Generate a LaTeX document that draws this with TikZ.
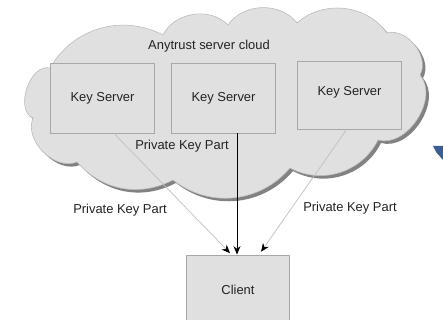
\documentclass[tikz,border=0pt]{standalone}
\usepackage{fontspec}
\setmainfont{Liberation Sans}
\usepackage{tikz}
\usetikzlibrary{
    arrows.meta,
    calc
}
\definecolor{cloudgray}{RGB}{224,224,224}
\definecolor{shadowgray}{RGB}{130,130,130}
\definecolor{rimgray}{RGB}{185,185,185}
\definecolor{boxgray}{RGB}{168,168,168}
\definecolor{inkgray}{RGB}{34,34,34}
\definecolor{markblue}{RGB}{58,94,148}
\tikzstyle{server} = [
    rectangle,
    draw=boxgray,
    fill=cloudgray,
    line width=0.6pt,
    minimum width=2.58cm,
    minimum height=1.75cm,
    text=inkgray
]
\tikzstyle{part} = [
    draw=black!25,
    line width=0.5pt,
    -{Stealth[length=6pt,width=5pt,black]}
]
\tikzstyle{lbl} = [
    text=inkgray
]
% outline of the server cloud, one bump per segment
\def\cloudpath{(50,68) to[bend left=44] (163,35) to[bend left=55] (228,25)
    to[bend left=54] (297,23) to[bend left=48] (387,33)
    to[bend left=67] (420,75) to[bend left=73] (378,140)
    to[bend left=46] (290,168) to[bend left=44] (173,180)
    to[bend left=38] (77,162) to[bend left=67] (33,118)
    to[bend left=85] (50,68) -- cycle}

\begin{document}
\begin{tikzpicture}[x=0.025cm, y=-0.025cm, font=\fontsize{9.2}{11}\selectfont]
        \useasboundingbox (0,0) rectangle (443,320);
        \clip (0,0) rectangle (443,320);

        % Cloud with its drop shadow
        \fill[shadowgray, shift={(3,3)}] \cloudpath;
        \filldraw[fill=cloudgray, draw=rimgray, line width=0.4pt] \cloudpath;
        \node[lbl] (cloud) at (209,46) {Anytrust server cloud};

        % Key servers
        \node[server] (ks1) at (102.5,98) {Key Server};
        \node[server] (ks2) at (223.5,98) {Key Server};
        \node[server, minimum height=1.72cm, text depth=7pt] (ks3) at (349.5,95.5) {Key Server};

        % Client
        \node[server] (client) at (238,290) {Client};

        % Key parts sent to the client
        \draw[part] (ks1.-72) -- ([xshift=-5.7pt,yshift=1pt]client.north);
        \draw[part, draw=black, line width=0.6pt] ([xshift=9.6pt]ks2.south) -- ([xshift=9.6pt]ks2.south |- client.north);
        \draw[part] ([xshift=-2.5pt]ks3.south) -- ([xshift=16.4pt,yshift=2pt]client.north);

        % Labels
        \node[lbl] (plabel) at (182,146) {Private Key Part};
        \node[lbl] (llabel) at (120,210) {Private Key Part};
        \node[lbl] (rlabel) at (350,208) {Private Key Part};

        % Blue corner mark
        \fill[markblue] (433,146) -- (443,146) -- (443,160) -- (436,152) -- cycle;
    \end{tikzpicture}
\end{document}
